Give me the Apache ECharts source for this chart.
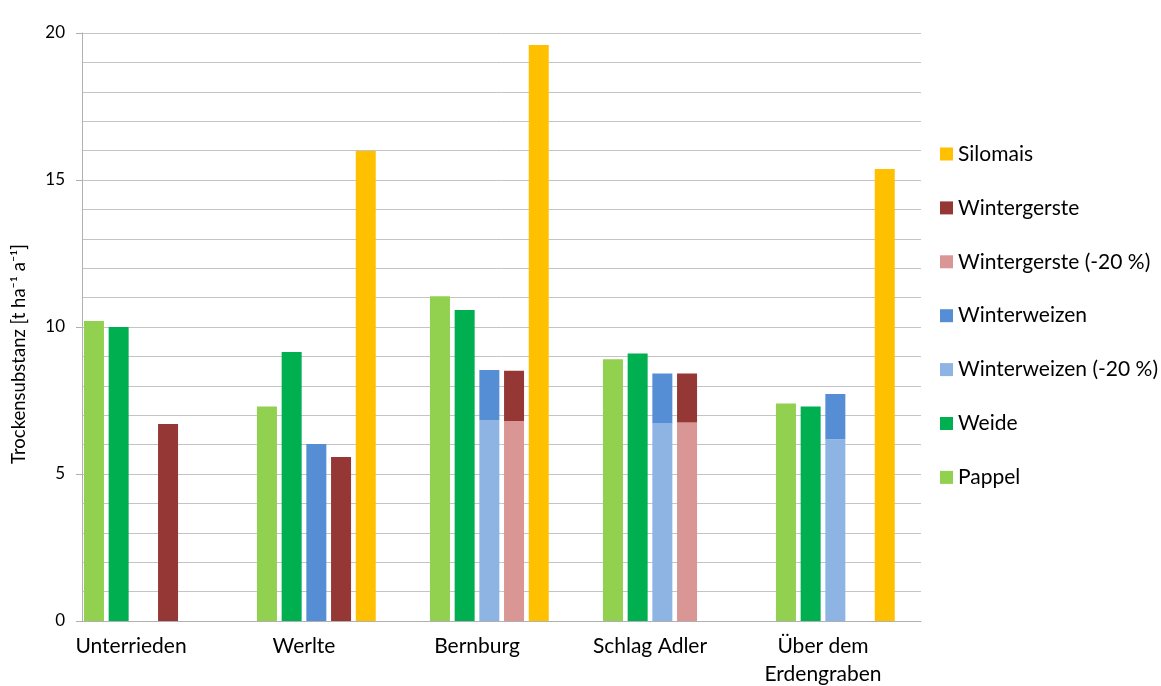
<!DOCTYPE html>
<html>
<head>
<meta charset="utf-8">
<script src="https://cdn.jsdelivr.net/npm/echarts@6/dist/echarts.min.js"></script>
<style>html,body{margin:0;padding:0;background:#fff;}#c{width:1161px;height:686px;}</style>
</head>
<body>
<div id="c"></div>
<script>
const categories = ['Unterrieden', 'Werlte', 'Bernburg', 'Schlag Adler', 'Über dem\nErdengraben'];
const pappel = [10.2, 7.3, 11.05, 8.9, 7.4];
const weide = [10.0, 9.15, 10.58, 9.1, 7.3];
const winterweizen20 = [null, null, 6.84, 6.72, 6.18];
const winterweizenTop = [null, 6.02, 1.70, 1.70, 1.54];
const wintergerste20 = [null, null, 6.80, 6.75, null];
const wintergersteTop = [6.7, 5.58, 1.71, 1.67, null];
const silomais = [null, 15.99, 19.59, null, 15.37];
const yTicks = [0, 5, 10, 15, 20];

const colors = {
  'Silomais': '#FFC000',
  'Wintergerste': '#953735',
  'Wintergerste (-20 %)': '#D99694',
  'Winterweizen': '#558ED5',
  'Winterweizen (-20 %)': '#8EB4E3',
  'Weide': '#00B050',
  'Pappel': '#92D050'
};
const FONT = 'Lato, "Open Sans", sans-serif';

function bar(name, data, stack) {
  const s = {
    name: name, type: 'bar', data: data,
    xAxisIndex: 1, yAxisIndex: 1,
    barWidth: 20, barGap: '23.5%',
    itemStyle: { color: colors[name] || 'transparent' }
  };
  if (stack) s.stack = stack;
  return s;
}

const chart = echarts.init(document.getElementById('c'));
chart.setOption({
  animation: false,
  backgroundColor: '#fff',
  textStyle: { fontFamily: FONT },
  grid: [
    { left: 82, right: 240, top: 33, bottom: 65, containLabel: false, outerBoundsMode: 'none' },
    { left: 44.5, width: 865, top: 33, bottom: 65, containLabel: false, outerBoundsMode: 'none' }
  ],
  legend: {
    orient: 'vertical',
    left: 935, top: 138.5,
    icon: 'rect',
    itemWidth: 13, itemHeight: 13,
    itemGap: 32.9,
    textStyle: { fontSize: 21, color: '#000', fontFamily: FONT, lineHeight: 20 },
    data: ['Silomais', 'Wintergerste', 'Wintergerste (-20 %)', 'Winterweizen', 'Winterweizen (-20 %)', 'Weide', 'Pappel']
  },
  xAxis: [
    {
      type: 'category', gridIndex: 0, data: categories,
      axisLine: { show: true, lineStyle: { color: '#b0b0b0', width: 1 } },
      axisTick: { show: false }, axisLabel: { show: false }, splitLine: { show: false }
    },
    {
      type: 'category', gridIndex: 1, data: categories,
      axisLine: { show: false }, axisTick: { show: false },
      axisLabel: { fontSize: 21, color: '#000', margin: 11, lineHeight: 28, fontFamily: FONT }
    }
  ],
  yAxis: [
    {
      type: 'value', gridIndex: 0, min: yTicks[0], max: yTicks[yTicks.length - 1], interval: 5,
      name: 'Trockensubstanz [t ha⁻¹ a⁻¹]',
      nameLocation: 'middle', nameGap: 53, nameRotate: 90,
      nameTextStyle: { fontSize: 18.5, color: '#000', fontFamily: FONT, padding: [0, 54, 0, 0] },
      axisLine: { show: true, lineStyle: { color: '#b0b0b0', width: 1 } },
      axisTick: { show: true, length: 6, inside: false, lineStyle: { color: '#b0b0b0' } },
      axisLabel: { fontSize: 17, color: '#000', margin: 17, fontFamily: FONT },
      splitLine: { show: true, lineStyle: { color: '#c4c4c4', width: 1 } },
      minorTick: { show: false, splitNumber: 5 },
      minorSplitLine: { show: true, lineStyle: { color: '#c4c4c4', width: 1 } }
    },
    {
      type: 'value', gridIndex: 1, min: 0, max: 20, interval: 5, show: false,
      splitLine: { show: false }
    }
  ],
  series: [
    bar('_pad', [null, null, null, null, null]),
    bar('Pappel', pappel),
    bar('Weide', weide),
    bar('Winterweizen (-20 %)', winterweizen20, 'ww'),
    bar('Winterweizen', winterweizenTop, 'ww'),
    bar('Wintergerste (-20 %)', wintergerste20, 'wg'),
    bar('Wintergerste', wintergersteTop, 'wg'),
    bar('Silomais', silomais)
  ]
});
</script>
</body>
</html>
